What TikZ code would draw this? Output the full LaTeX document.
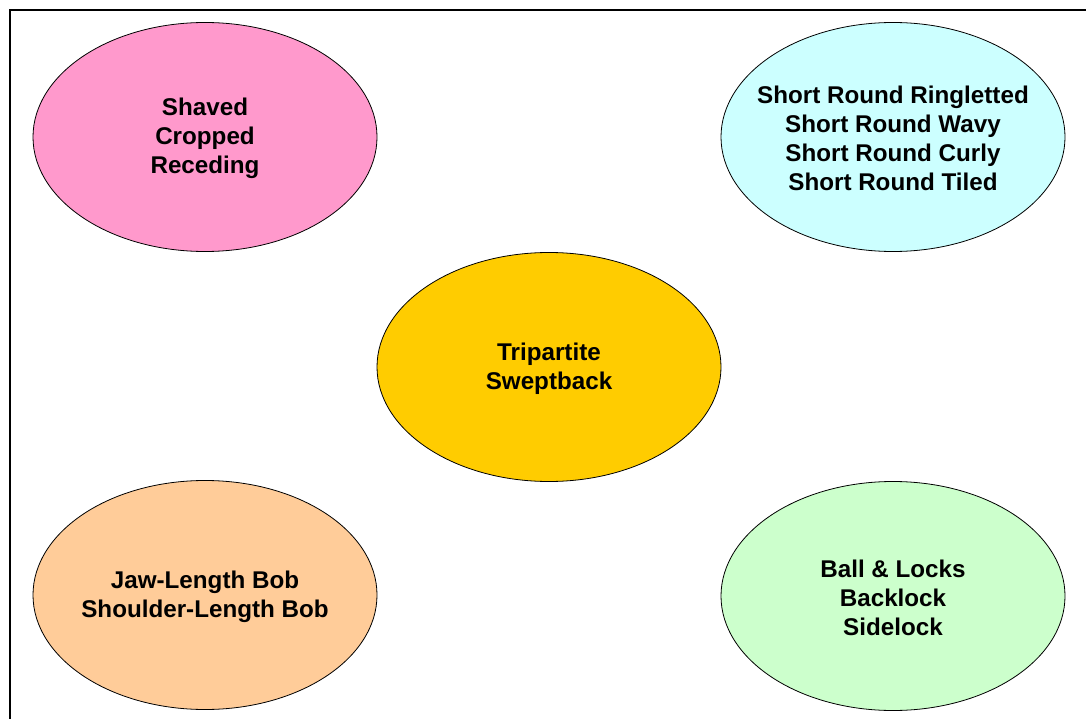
\documentclass[tikz,border=0pt]{standalone}
\usepackage{fontspec}
\setmainfont{Liberation Sans}
\usetikzlibrary{shapes.geometric}
\definecolor{cpink}{HTML}{FF99CC}
\definecolor{ccyan}{HTML}{CCFFFF}
\definecolor{cyell}{HTML}{FFCC00}
\definecolor{corange}{HTML}{FFCC99}
\definecolor{cgreen}{HTML}{CCFFCC}
\tikzset{
  blob/.style={ellipse, draw=black, line width=0.8pt, minimum width=344pt, minimum height=229pt, inner sep=0pt},
  label text/.style={inner sep=0pt, align=center, font=\fontsize{24.2pt}{29pt}\selectfont\bfseries, yshift=-1.5pt},
}
\begin{document}
\begin{tikzpicture}[x=1pt,y=-1pt]
\useasboundingbox (0,0) rectangle (1086,719);
\begin{scope}
\clip (0,0) rectangle (1086,719);
\draw[line width=2pt] (10,740) -- (10,10) -- (1100,10);
\end{scope}
\node[blob, fill=cpink] (pink) at (205,137) {};
\node[label text] (pinkt) at (pink.center) {Shaved\\Cropped\\Receding};
\node[blob, fill=ccyan] (cyan) at (893,137) {};
\node[label text] (cyant) at (cyan.center) {Short Round Ringletted\\Short Round Wavy\\Short Round Curly\\Short Round Tiled};
\node[blob, fill=cyell] (yell) at (549,367) {};
\node[label text] (yellt) at (yell.center) {Tripartite\\Sweptback};
\node[blob, fill=corange] (orange) at (205,595) {};
\node[label text] (oranget) at (orange.center) {Jaw-Length Bob\\Shoulder-Length Bob};
\node[blob, fill=cgreen] (green) at (893,596) {};
\node[label text] (greent) at (green.center) {Ball \& Locks\\Backlock\\Sidelock};
\end{tikzpicture}
\end{document}
